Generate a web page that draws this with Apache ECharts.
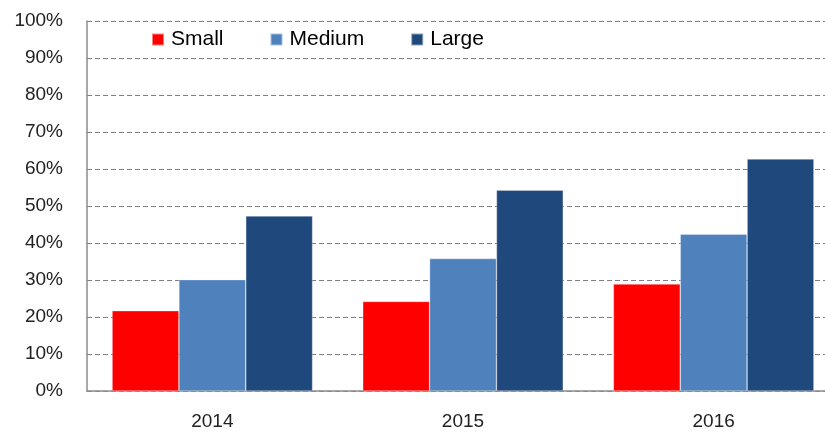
<!DOCTYPE html>
<html>
<head>
<meta charset="utf-8">
<script src="https://cdn.jsdelivr.net/npm/echarts@6/dist/echarts.min.js"></script>
<style>
  html, body { margin: 0; padding: 0; background: #fff; overflow: hidden; }
  /* wider than the window: the right end of the plot is cropped, as in the source */
  #main { width: 845px; height: 432px; }
</style>
</head>
<body>
<div id="main"></div>
<script>
// years on the x axis
var years = ['2014', '2015', '2016'];
// share per size class, in %
var small = [21.7, 24.2, 28.9];
var medium = [30.1, 35.8, 42.4];
var large = [47.3, 54.3, 62.7];

var myChart = echarts.init(document.getElementById('main'));

function bar(name, values, color) {
  return {
    name: name,
    type: 'bar',
    data: values,
    barGap: 0,
    barCategoryGap: '20%',
    itemStyle: { color: color, borderColor: 'rgba(255,255,255,0.5)', borderWidth: 0.6 }
  };
}

myChart.setOption({
  animation: false,
  textStyle: { fontFamily: 'Liberation Sans, Arial, sans-serif' },
  legend: {
    top: 24,
    left: 146,
    itemWidth: 12,
    itemHeight: 12,
    itemGap: 46,
    icon: 'rect',
    textStyle: { fontSize: 21, color: '#000', padding: [0, 0, 0, 2] },
    data: ['Small', 'Medium', 'Large']
  },
  grid: { left: 87, right: 6, top: 21, bottom: 41 },
  xAxis: {
    type: 'category',
    data: years,
    axisLine: { lineStyle: { color: '#8c8c8c', width: 1.5 } },
    axisTick: { show: false },
    axisLabel: { fontSize: 19, color: '#222', margin: 21 }
  },
  yAxis: {
    type: 'value',
    min: 0,
    max: 100,
    interval: 10,
    axisLine: { show: true, lineStyle: { color: '#8c8c8c', width: 1.5 } },
    axisTick: { show: false },
    axisLabel: { fontSize: 19, color: '#222', margin: 24, formatter: '{value}%' },
    splitLine: { lineStyle: { color: '#808080', type: [5, 3] } }
  },
  series: [
    bar('Small', small, '#ff0000'),
    bar('Medium', medium, '#4f81bd'),
    bar('Large', large, '#1f497d')
  ]
});
</script>
</body>
</html>
